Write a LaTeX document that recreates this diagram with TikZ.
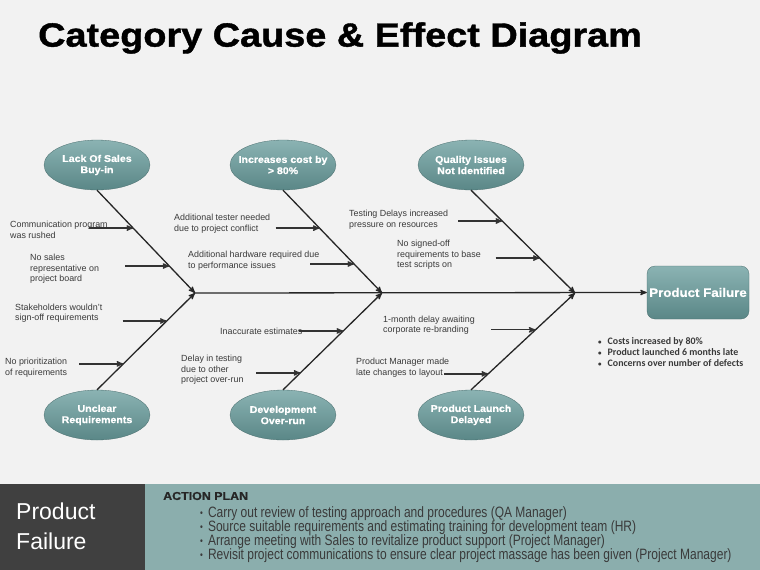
\documentclass[tikz,border=0pt]{standalone}
\usepackage{fontspec}
\setmainfont{Liberation Sans}
\newfontfamily\titlefont[UprightFont=* Bold,FakeStretch=1.13,FakeBold=1.2]{Liberation Sans}
\newfontfamily\widebold[UprightFont=* Bold,FakeStretch=1.08,FakeBold=0.6]{Liberation Sans}
\newfontfamily\narrowfont[FakeStretch=0.8]{Liberation Sans}
\newfontfamily\notefont[UprightFont=* Bold]{Carlito}
\usepackage{xcolor}
\usepackage{tikz}
\usetikzlibrary{shapes,arrows,positioning,calc}

\definecolor{pagebg}{HTML}{F2F2F2}
\definecolor{tealhi}{HTML}{8BB3B3}
\definecolor{tealdk}{HTML}{5A8787}
\definecolor{txtgrey}{HTML}{3A3A3A}
\definecolor{bandgrey}{HTML}{404040}
\definecolor{bandteal}{HTML}{8BAEAD}

\newcommand{\stepdot}{\raisebox{1pt}{\fontsize{10}{10}\selectfont\textbullet}\hspace{5pt}}

\begin{document}
\begin{tikzpicture}[x=1pt, y=-1pt,
    cat/.style={ellipse, minimum width=106pt, minimum height=50pt, inner xsep=-9pt, inner ysep=0pt, align=center,
      top color=tealhi, bottom color=tealdk, draw=tealdk!80!black, line width=0.3pt,
      text=white, font=\widebold\fontsize{9.8}{11.2}\selectfont},
    cause/.style={anchor=west, inner sep=0pt, align=left, text=txtgrey,
      font=\fontsize{8.9}{10.6}\selectfont},
    bone/.style={->, >=stealth', line width=1.3pt, black!85},
    arr/.style={->, >=stealth', line width=1.3pt, black!80}
  ]
    \useasboundingbox (0,0) rectangle (760,570);
    \fill[pagebg] (0,0) rectangle (760,570);

    % title
    \node[anchor=west, inner sep=0pt, font=\titlefont\fontsize{33.5}{36}\selectfont] (title) at (38,38) {Category Cause \& Effect Diagram};

    % category heads
    \node[cat] (sales)   at (97,165)  {Lack Of Sales\\Buy-in};
    \node[cat] (cost)    at (283,165) {Increases cost by\\> 80\%};
    \node[cat] (quality) at (471,165) {Quality Issues\\Not Identified};
    \node[cat] (unclear) at (97,415)  {Unclear\\Requirements};
    \node[cat] (devel)   at (283,415) {Development\\Over-run};
    \node[cat] (launch)  at (471,415) {Product Launch\\Delayed};

    % effect
    \node[draw=tealdk!80!black, line width=0.3pt, rounded corners=8pt, top color=tealhi, bottom color=tealdk,
      minimum width=102pt, minimum height=53pt, inner sep=0pt, text=white,
      font=\widebold\fontsize{12.3}{14}\selectfont] (failure) at (698,292.5) {Product Failure};

    % spine and bones
    \coordinate (j1) at (195,293);
    \coordinate (j2) at (382,293);
    \coordinate (j3) at (575,293);
    \draw[bone] (j1) -- (failure.west);
    \draw[bone] (sales.south)   -- (j1);
    \draw[bone] (unclear.north) -- (j1);
    \draw[bone] (cost.south)    -- (j2);
    \draw[bone] (devel.north)   -- (j2);
    \draw[bone] (quality.south) -- (j3);
    \draw[bone] (launch.north)  -- (j3);

    % points on the bones
    \coordinate (b1)  at ($(sales.south)!0.369!(j1)$);
    \coordinate (b2)  at ($(sales.south)!0.738!(j1)$);
    \coordinate (b3)  at ($(unclear.north)!0.711!(j1)$);
    \coordinate (b4)  at ($(unclear.north)!0.268!(j1)$);
    \coordinate (b5)  at ($(cost.south)!0.369!(j2)$);
    \coordinate (b6)  at ($(cost.south)!0.718!(j2)$);
    \coordinate (b7)  at ($(devel.north)!0.608!(j2)$);
    \coordinate (b8)  at ($(devel.north)!0.175!(j2)$);
    \coordinate (b9)  at ($(quality.south)!0.30!(j3)$);
    \coordinate (b10) at ($(quality.south)!0.66!(j3)$);
    \coordinate (b11) at ($(launch.north)!0.62!(j3)$);
    \coordinate (b12) at ($(launch.north)!0.165!(j3)$);

    % causes
    \node[cause] (comm)     at (10,230)    {Communication program\\was rushed};
    \node[cause] (nosales)  at (30,269)    {No sales\\representative on\\project board};
    \node[cause] (stake)    at (15,313)    {Stakeholders wouldn't\\sign-off requirements};
    \node[cause] (prior)    at (5,367.5)   {No prioritization\\of requirements};
    \node[cause] (tester)   at (174,223.5) {Additional tester needed\\due to project conflict};
    \node[cause] (hardware) at (188,260.5) {Additional hardware required due\\to performance issues};
    \node[cause] (inacc)    at (220,331)   {Inaccurate estimates};
    \node[cause] (delay)    at (181,370)   {Delay in testing\\due to other\\project over-run};
    \node[cause] (testing)  at (349,219.5) {Testing Delays increased\\pressure on resources};
    \node[cause] (signed)   at (397,255)   {No signed-off\\requirements to base\\test scripts on};
    \node[cause] (month)    at (383,325)   {1-month delay awaiting\\corporate re-branding};
    \node[cause] (pm)       at (356,367.5) {Product Manager made\\late changes to layout};

    \foreach \b in {b1,b2,b3,b4,b5,b6,b7,b8,b9,b10,b11,b12}
      \draw[arr] ([xshift=-44pt]\b) -- (\b);

    % notes under the effect
    \node[anchor=north west, inner sep=0pt, align=left, text=txtgrey,
      font=\notefont\fontsize{9.9}{10.8}\selectfont] (notes) at (598,337.5)
      {{\scriptsize\textbullet}\hspace{6pt}Costs increased by 80\%\\
       {\scriptsize\textbullet}\hspace{6pt}Product launched 6 months late\\
       {\scriptsize\textbullet}\hspace{6pt}Concerns over number of defects};

    % action band
    \fill[bandgrey] (0,484) rectangle (145,570);
    \fill[bandteal] (145,484) rectangle (760,570);
    \node[anchor=west, inner sep=0pt, align=left, text=white,
      font=\fontsize{23}{30}\selectfont] (band) at (16,526) {Product\\Failure};
    \node[anchor=west, inner sep=0pt, text=black!85,
      font=\widebold\fontsize{11.5}{13}\selectfont] (plan) at (163,496) {ACTION PLAN};
    \node[anchor=north west, inner sep=0pt, align=left, text=txtgrey,
      font=\narrowfont\fontsize{15}{14.3}\selectfont] (steps) at (200,506)
      {\stepdot Carry out review of testing approach and procedures (QA Manager)\\
       \stepdot Source suitable requirements and estimating training for development team (HR)\\
       \stepdot Arrange meeting with Sales to revitalize product support (Project Manager)\\
       \stepdot Revisit project communications to ensure clear project massage has been given (Project Manager)};
  \end{tikzpicture}
\end{document}
